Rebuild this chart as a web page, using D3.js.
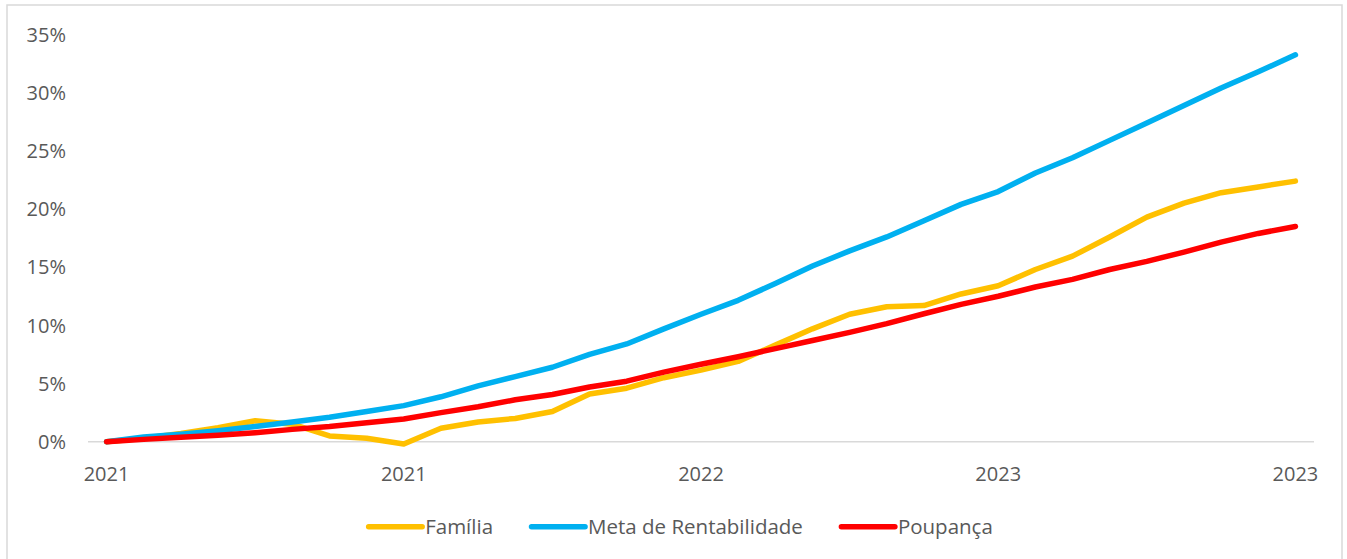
<!DOCTYPE html>
<html>
<head>
<meta charset="utf-8">
<script src="https://d3js.org/d3.v7.min.js"></script>
<style>
  body { margin: 0; background: #fff; }
  text { font-family: "Open Sans", sans-serif; fill: #595959; }
</style>
</head>
<body>
<svg id="main_graph" width="1347" height="559"></svg>
<script>
// monthly points, jan/2021 .. sep/2023
var months = ["2021-01","2021-02","2021-03","2021-04","2021-05","2021-06","2021-07","2021-08",
              "2021-09","2021-10","2021-11","2021-12","2022-01","2022-02","2022-03","2022-04",
              "2022-05","2022-06","2022-07","2022-08","2022-09","2022-10","2022-11","2022-12",
              "2023-01","2023-02","2023-03","2023-04","2023-05","2023-06","2023-07","2023-08",
              "2023-09"];

var familia = [0, 0.3, 0.7, 1.2, 1.8, 1.5, 0.5, 0.3, -0.2, 1.15, 1.7, 2.0, 2.6, 4.1, 4.6, 5.5,
               6.15, 6.9, 8.3, 9.7, 10.95, 11.6, 11.7, 12.7, 13.4, 14.8, 15.95, 17.6, 19.3, 20.5,
               21.4, 21.9, 22.4];
var meta    = [0, 0.4, 0.65, 0.95, 1.3, 1.7, 2.1, 2.6, 3.1, 3.86, 4.8, 5.6, 6.4, 7.5, 8.4, 9.7,
               10.95, 12.15, 13.6, 15.1, 16.4, 17.6, 19.0, 20.4, 21.5, 23.1, 24.4, 25.9, 27.4, 28.9,
               30.4, 31.8, 33.25];
var poupanca = [0, 0.2, 0.38, 0.55, 0.77, 1.06, 1.3, 1.63, 1.95, 2.5, 3.0, 3.6, 4.06, 4.7, 5.2, 5.98,
                6.66, 7.3, 8.0, 8.7, 9.4, 10.15, 11.0, 11.8, 12.5, 13.3, 13.95, 14.8, 15.5, 16.3,
                17.15, 17.9, 18.5];

var yTicks = [0, 5, 10, 15, 20, 25, 30, 35];
var xTickMonths = ["2021-01", "2021-09", "2022-05", "2023-01", "2023-09"];

var series = [
  { name: "Família",               values: familia,  color: "#FFC000" },
  { name: "Meta de Rentabilidade", values: meta,     color: "#00B0F0" },
  { name: "Poupança",              values: poupanca, color: "#FF0000" }
];

var svg = d3.select("#main_graph");

// outer chart border
svg.append("rect")
  .attr("x", 7).attr("y", 5)
  .attr("width", 1335).attr("height", 570)
  .attr("fill", "#fff")
  .attr("stroke", "#d9d9d9").attr("stroke-width", 1.5);

var x = d3.scaleBand().domain(months).range([88, 1314]);
var y = d3.scaleLinear().domain([0, 35]).range([441.7, 34.5]);
var cx = function(m) { return x(m) + x.bandwidth() / 2; };

// y labels
svg.append("g").selectAll("text")
  .data(yTicks)
  .enter().append("text")
  .attr("x", 66)
  .attr("y", function(d) { return y(d); })
  .attr("dy", "0.36em")
  .attr("text-anchor", "end")
  .style("font-size", "20px")
  .text(function(d) { return d + "%"; });

// baseline axis
svg.append("line")
  .attr("x1", 88).attr("x2", 1314)
  .attr("y1", y(0)).attr("y2", y(0))
  .attr("stroke", "#d9d9d9").attr("stroke-width", 1.5);

// x labels (year only)
var fmtYear = function(m) { return m.slice(0, 4); };
svg.append("g").selectAll("text")
  .data(xTickMonths)
  .enter().append("text")
  .attr("x", function(d) { return cx(d); })
  .attr("y", 481)
  .attr("text-anchor", "middle")
  .style("font-size", "20px")
  .text(fmtYear);

var line = d3.line()
  .x(function(d, i) { return cx(months[i]); })
  .y(function(d) { return y(d); });

svg.append("g").selectAll("path")
  .data(series)
  .enter().append("path")
  .attr("d", function(s) { return line(s.values); })
  .attr("fill", "none")
  .attr("stroke", function(s) { return s.color; })
  .attr("stroke-width", 5.5)
  .attr("stroke-linejoin", "round")
  .attr("stroke-linecap", "round");

// legend, centered under the plot
var legend = svg.append("g");
var lx = 0;
series.forEach(function(s, i) {
  var g = legend.append("g").attr("transform", "translate(" + lx + ",0)");
  g.append("line")
    .attr("x1", 2.5).attr("x2", 56)
    .attr("y1", 526.7).attr("y2", 526.7)
    .attr("stroke", s.color).attr("stroke-width", 5.5)
    .attr("stroke-linecap", "round");
  var t = g.append("text")
    .attr("x", 59).attr("y", 533.5)
    .style("font-size", "20.5px")
    .text(s.name);
  lx += 59 + t.node().getComputedTextLength() + 36;
});
var lw = lx - 36;
legend.attr("transform", "translate(" + (679.5 - lw / 2) + ",0)");
</script>
</body>
</html>
